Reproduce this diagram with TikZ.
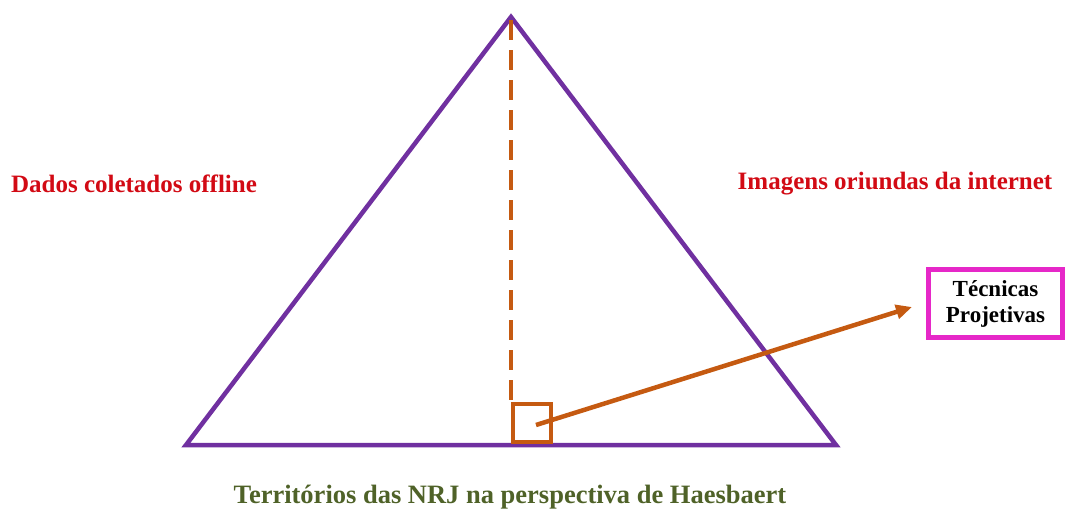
\documentclass[tikz,border=0pt]{standalone}
\usepackage{fontspec}
\setmainfont{Liberation Serif}
\usetikzlibrary{arrows.meta}
\definecolor{tripurple}{RGB}{112,48,160}
\definecolor{lineorange}{RGB}{197,90,17}
\definecolor{boxpink}{RGB}{230,40,200}
\definecolor{labred}{RGB}{210,10,20}
\definecolor{labgreen}{RGB}{79,98,40}
\tikzset{
  tri/.style={draw=tripurple, line width=4.5pt, line join=miter},
  orangeline/.style={draw=lineorange, line width=4.5pt},
  redlabel/.style={text=labred, font=\bfseries\fontsize{25}{30}\selectfont, inner sep=0pt},
  greenlabel/.style={text=labgreen, font=\bfseries\fontsize{26.5}{31}\selectfont, inner sep=0pt},
  pinkbox/.style={draw=boxpink, line width=4.5pt, minimum width=134pt, minimum height=68pt, align=center, font=\bfseries\fontsize{23}{26}\selectfont, inner sep=0pt}
}
\begin{document}
\begin{tikzpicture}[x=1pt,y=-1pt]
\useasboundingbox (0,0) rectangle (1066,514);
\coordinate (apex) at (511,17);
\coordinate (bl) at (186,445);
\coordinate (br) at (836,445);
\coordinate (dtop) at (511,20);
\coordinate (dbot) at (511,403);
\coordinate (astart) at (536,425);
\coordinate (aend) at (912,307);
\draw[tri] (apex) -- (br) -- (bl) -- cycle;
\draw[orangeline, dash pattern=on 20pt off 10pt] (dtop) -- (dbot);
\node[draw=lineorange, line width=4.5pt, minimum width=38pt, minimum height=38pt, inner sep=0pt] (sq) at (532,423) {};
\draw[orangeline, -{Triangle[length=16pt,width=14pt]}] (astart) -- (aend);
\node[pinkbox] (box) at (995.5,303.5) {Técnicas\\Projetivas};
\node[redlabel] (left) at (134,184) {Dados coletados offline};
\node[redlabel] (right) at (895,184) {Imagens oriundas da internet};
\node[greenlabel] (bottom) at (510,497) {Territórios das NRJ na perspectiva de Haesbaert};
\end{tikzpicture}
\end{document}
